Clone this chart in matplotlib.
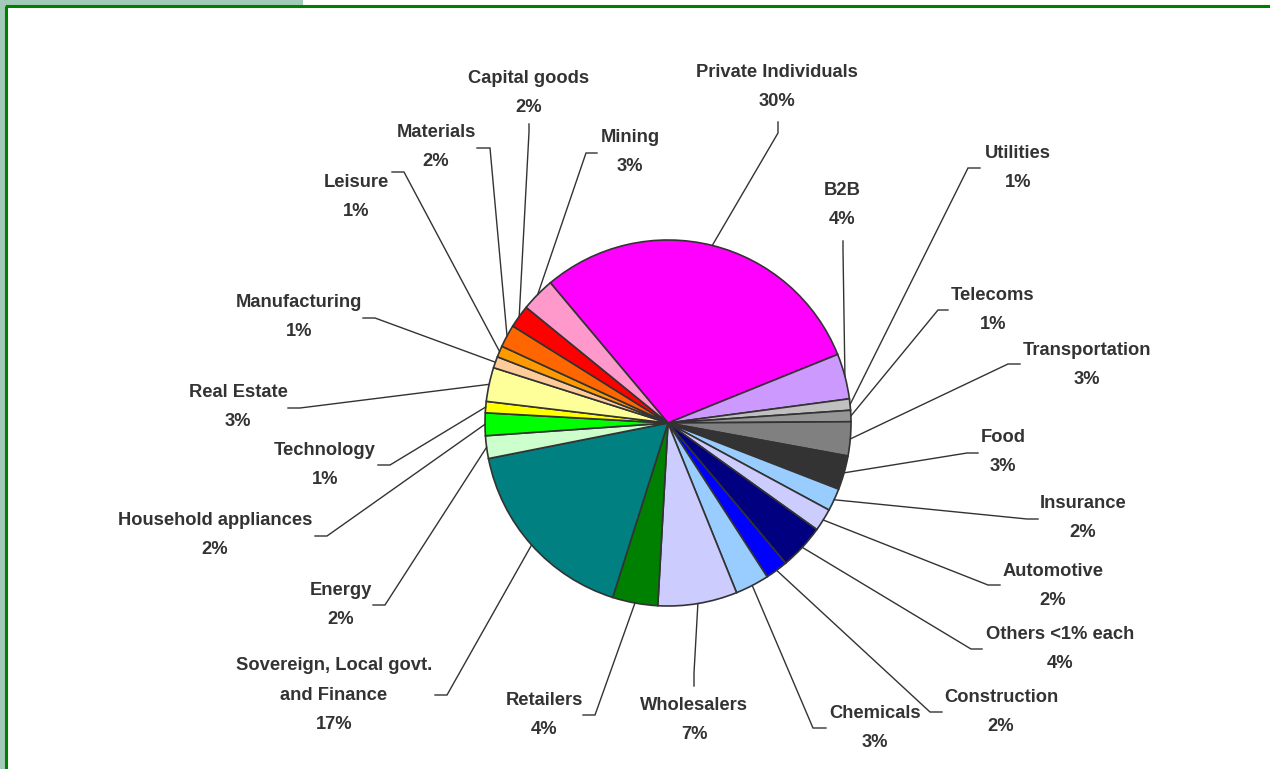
import matplotlib
matplotlib.use("Agg")
import matplotlib.pyplot as plt
from matplotlib.patches import Rectangle
import numpy as np

# ---- data ----
categories = ["Private Individuals", "B2B", "Utilities", "Telecoms", "Transportation",
              "Food", "Insurance", "Automotive", "Others <1% each", "Construction",
              "Chemicals", "Wholesalers", "Retailers",
              "Sovereign, Local govt.\nand Finance", "Energy", "Household appliances",
              "Technology", "Real Estate", "Manufacturing", "Leisure", "Materials",
              "Capital goods", "Mining"]
shares = [30, 4, 1, 1, 3, 3, 2, 2, 4, 2, 3, 7, 4, 17, 2, 2, 1, 3, 1, 1, 2, 2, 3]
pct_labels = [f"{v}%" for v in shares]

# ---- styles ----
colors = ["#FF00FF", "#CC99FF", "#C0C0C0", "#969696", "#808080", "#333333",
          "#99CCFF", "#CCCCFF", "#000080", "#0000FF", "#99CCFF", "#CCCCFF",
          "#008000", "#008080", "#CCFFCC", "#00FF00", "#FFFF00", "#FFFF99",
          "#FFCC99", "#FF9900", "#FF6600", "#FF0000", "#FF99CC"]

W, H = 1270, 769
# layout in pixel coordinates (origin top-left)
pie_center_px = (668, 423)
pie_radius = 183
label_pos_px = [(777, 87), (842, 205), (1018, 168), (993, 310), (1087, 365),
                (1003, 452), (1083, 518), (1053, 586), (1060, 649), (1001, 712),
                (875, 728), (694, 720), (544, 715), (334, 695), (341, 605),
                (215, 535), (325, 465), (238, 407), (299, 317), (356, 197),
                (436, 147), (529, 93), (630, 152)]
elbow_px = [(778, 133), (843, 250), (968, 168), (938, 310), (1008, 364),
            (967, 453), (1027, 519), (988, 585), (971, 649), (930, 712),
            (813, 728), (694, 673), (595, 715), (447, 695), (385, 605),
            (327, 536), (390, 465), (300, 408), (375, 318), (404, 172),
            (490, 148), (529, 132), (586, 153)]
end_px = [(778, 122), (843, 241), (980, 168), (948, 310), (1020, 364),
          (978, 453), (1038, 519), (1000, 585), (982, 649), (942, 712),
          (826, 728), (694, 686), (583, 715), (435, 695), (373, 605),
          (315, 536), (378, 465), (288, 408), (363, 318), (392, 172),
          (477, 148), (529, 124), (597, 153)]


def P(pt):
    return (pt[0], H - pt[1])


plt.rcParams['font.family'] = ['Liberation Sans', 'DejaVu Sans']

fig = plt.figure(figsize=(W / 100, H / 100), dpi=100)
ax = fig.add_axes([0, 0, 1, 1])

cx, cy = P(pie_center_px)
wedges, _ = ax.pie(shares, colors=colors, startangle=130, counterclock=False,
                   center=(cx, cy), radius=pie_radius,
                   wedgeprops=dict(edgecolor="#333333", linewidth=1.2))

ax.set_xlim(0, W)
ax.set_ylim(0, H)
ax.set_aspect('equal')
ax.axis('off')

txt_color = "#333333"
for i, w in enumerate(wedges):
    mid = np.deg2rad((w.theta1 + w.theta2) / 2.0)
    sx = cx + pie_radius * np.cos(mid)
    sy = cy + pie_radius * np.sin(mid)
    ex, ey = P(elbow_px[i])
    tx, ty = P(end_px[i])
    ax.plot([sx, ex, tx], [sy, ey, ty], color="#333333", lw=1.0,
            solid_joinstyle='miter', zorder=1)
    lx, ly = P(label_pos_px[i])
    ax.text(lx, ly, categories[i] + "\n" + pct_labels[i], ha='center', va='center',
            multialignment='center', fontsize=13.2, fontweight='bold',
            color=txt_color, linespacing=1.93)

# frame decoration
ax.add_patch(Rectangle((0, 0), 5, H, facecolor="#A3C9B8", edgecolor='none',
                       transform=ax.transData, clip_on=False))
ax.add_patch(Rectangle((0, H - 5), 303, 5, facecolor="#A3C9B8", edgecolor='none',
                       transform=ax.transData, clip_on=False))
ax.plot([6, 6], [0, H - 6], color="#008000", lw=2.2, solid_capstyle='butt')
ax.plot([5, W], [H - 6, H - 6], color="#008000", lw=2.2, solid_capstyle='butt')

fig.savefig("out.png", dpi=100, facecolor='white')
